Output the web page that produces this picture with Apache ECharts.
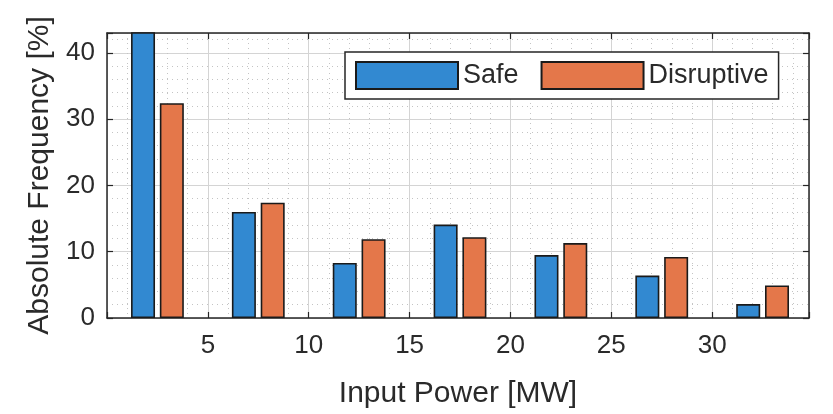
<!DOCTYPE html>
<html>
<head>
<meta charset="utf-8">
<script src="https://cdn.jsdelivr.net/npm/echarts@6/dist/echarts.min.js"></script>
<style>
html,body{margin:0;padding:0;background:#fff;}
#chart{width:833px;height:414px;}
</style>
</head>
<body>
<div id="chart"></div>
<script>
// Data
var binCenters = [2.5, 7.5, 12.5, 17.5, 22.5, 27.5, 32.5];
var safeValues = [45.5, 16.0, 8.3, 14.1, 9.5, 6.4, 2.1];
var disruptiveValues = [32.4, 17.4, 11.9, 12.2, 11.3, 9.2, 4.9];
var xTickLabels = [5, 10, 15, 20, 25, 30];
var yTickLabels = [0, 10, 20, 30, 40];
var seriesNames = ['Safe', 'Disruptive'];

var FONT = '"Liberation Sans", Arial, Helvetica, sans-serif';
var TXT = '#2a2a2a';
var AX = '#262626';

function pairs(xs, ys) {
  return xs.map(function (x, i) { return [x, ys[i]]; });
}

var chart = echarts.init(document.getElementById('chart'), null, {renderer: 'canvas'});

var xBase = {
  type: 'value', min: 0, max: 34.8, interval: 5
};
var yBase = {
  type: 'value', min: 0, max: 43, interval: 10
};

chart.setOption({
  animation: false,
  backgroundColor: '#fff',
  textStyle: {fontFamily: FONT},
  grid: {left: 107, right: 24, top: 33, bottom: 89, containLabel: false},
  legend: {
    data: seriesNames,
    left: 345, top: 52,
    orient: 'horizontal',
    itemWidth: 102, itemHeight: 27, itemGap: 22,
    padding: [9, 10, 9, 10],
    borderColor: AX, borderWidth: 1.5, borderRadius: 0,
    backgroundColor: '#fff',
    icon: 'rect',
    textStyle: {fontSize: 27, color: TXT, fontFamily: FONT, padding: [0, 0, 0, 0]}
  },
  xAxis: [
    Object.assign({}, xBase, {
      position: 'bottom',
      name: 'Input Power [MW]', nameLocation: 'middle', nameGap: 61,
      nameTextStyle: {fontSize: 30, color: TXT, fontFamily: FONT},
      axisLine: {show: true, onZero: false, lineStyle: {color: AX, width: 1.5}},
      axisTick: {show: true, inside: true, length: 6, lineStyle: {color: AX, width: 1.2}},
      axisLabel: {
        fontSize: 26, color: TXT, fontFamily: FONT, margin: 15,
        formatter: function (v) { return xTickLabels.indexOf(v) >= 0 ? String(v) : ''; }
      },
      splitLine: {show: true, lineStyle: {color: '#d4d4d4', width: 1}},
      minorTick: {show: false, splitNumber: 5},
      minorSplitLine: {show: true, lineStyle: {color: '#c4c4c4', width: 1, type: [1, 4]}}
    }),
    Object.assign({}, xBase, {
      position: 'top',
      axisLine: {show: true, onZero: false, lineStyle: {color: AX, width: 1.5}},
      axisTick: {show: true, inside: true, length: 6, lineStyle: {color: AX, width: 1.2}},
      axisLabel: {show: false},
      splitLine: {show: false}
    })
  ],
  yAxis: [
    Object.assign({}, yBase, {
      position: 'left',
      name: 'Absolute Frequency [%]', nameLocation: 'middle', nameGap: 41,
      nameRotate: 90,
      nameTextStyle: {fontSize: 30, color: TXT, fontFamily: FONT},
      axisLine: {show: true, onZero: false, lineStyle: {color: AX, width: 1.5}},
      axisTick: {show: true, inside: true, length: 6, lineStyle: {color: AX, width: 1.2}},
      axisLabel: {
        fontSize: 26, color: TXT, fontFamily: FONT, margin: 12,
        formatter: function (v) { return yTickLabels.indexOf(v) >= 0 ? String(v) : ''; }
      },
      splitLine: {show: true, lineStyle: {color: '#d4d4d4', width: 1}},
      minorTick: {show: false, splitNumber: 5},
      minorSplitLine: {show: true, lineStyle: {color: '#c4c4c4', width: 1, type: [1, 4]}}
    }),
    Object.assign({}, yBase, {
      position: 'right',
      axisLine: {show: true, onZero: false, lineStyle: {color: AX, width: 1.5}},
      axisTick: {show: true, inside: true, length: 6, lineStyle: {color: AX, width: 1.2}},
      axisLabel: {show: false},
      splitLine: {show: false}
    })
  ],
  series: [
    {
      name: seriesNames[0], type: 'bar', xAxisIndex: 0, yAxisIndex: 0,
      data: pairs(binCenters, safeValues),
      barWidth: 24, barGap: '20%', clip: true,
      itemStyle: {color: '#3289d1', borderColor: '#1a1a1a', borderWidth: 1.6}
    },
    {
      name: seriesNames[1], type: 'bar', xAxisIndex: 0, yAxisIndex: 0,
      data: pairs(binCenters, disruptiveValues),
      barWidth: 24, barGap: '20%', clip: true,
      itemStyle: {color: '#e4774a', borderColor: '#1a1a1a', borderWidth: 1.6}
    }
  ]
});
</script>
</body>
</html>
